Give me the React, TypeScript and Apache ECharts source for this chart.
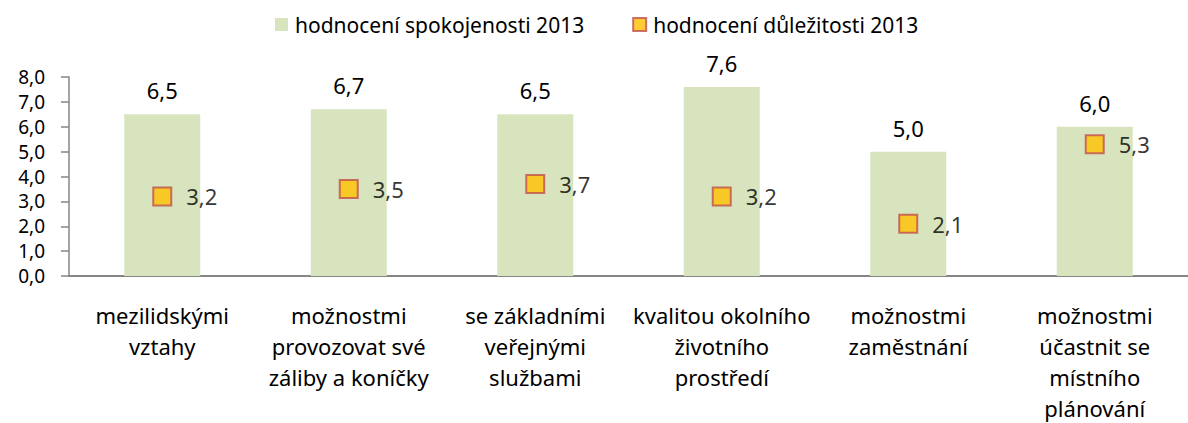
import React, { useEffect, useRef } from "react";
import * as echarts from "echarts";

const categories = [
  "mezilidskými\nvztahy",
  "možnostmi\nprovozovat své\nzáliby a koníčky",
  "se základními\nveřejnými\nslužbami",
  "kvalitou okolního\nživotního\nprostředí",
  "možnostmi\nzaměstnání",
  "možnostmi\núčastnit se\nmístního\nplánování",
];
const satisfaction = [6.5, 6.7, 6.5, 7.6, 5.0, 6.0];
const importance = [3.2, 3.5, 3.7, 3.2, 2.1, 5.3];
const seriesNames = ["hodnocení spokojenosti 2013", "hodnocení důležitosti 2013"];

const FONT = "'Noto Sans', sans-serif";
const FS = 22;
const fmt = (v: number) => v.toFixed(1).replace(".", ",");

export default function App() {
  const ref = useRef<HTMLDivElement>(null);
  useEffect(() => {
    if (!ref.current) return;
    const chart = echarts.init(ref.current, null, { renderer: "svg" });
    chart.setOption({
      animation: false,
      textStyle: { fontFamily: FONT },
      legend: {
        top: 9,
        left: 270,
        itemGap: 48,
        itemWidth: 13,
        itemHeight: 13,
        textStyle: { fontFamily: FONT, fontSize: 21, color: "#000", padding: [0, 0, 0, 2] },
        data: [
          { name: seriesNames[0], icon: "rect" },
          { name: seriesNames[1], icon: "rect" },
        ],
      },
      grid: { left: 69, top: 77, bottom: 143, width: 1130, containLabel: false },
      xAxis: {
        type: "category",
        data: categories,
        axisLine: { lineStyle: { color: "#868686", width: 2 } },
        axisTick: { show: false },
        axisLabel: {
          interval: 0,
          color: "#000",
          fontFamily: FONT,
          fontSize: FS,
          lineHeight: 31,
          margin: 23,
        },
      },
      yAxis: {
        type: "value",
        min: 0,
        max: 8,
        interval: 1,
        splitLine: { show: false },
        axisLine: { show: true, lineStyle: { color: "#868686", width: 1.5 } },
        axisTick: { show: true, length: 8, lineStyle: { color: "#868686", width: 1.5 } },
        axisLabel: {
          formatter: (v: number) => fmt(v),
          color: "#000",
          fontFamily: FONT,
          fontSize: 19,
          lineHeight: 22,
          margin: 24,
        },
      },
      series: [
        {
          name: seriesNames[0],
          type: "bar",
          data: satisfaction,
          barWidth: 76,
          itemStyle: { color: "#d7e4bd" },
          label: {
            show: true,
            position: "top",
            distance: 13,
            formatter: (p: any) => fmt(p.value),
            color: "#000",
            fontFamily: FONT,
            fontSize: FS,
          },
          z: 1,
        },
        {
          name: seriesNames[1],
          type: "scatter",
          data: importance,
          symbol: "rect",
          symbolSize: 18,
          itemStyle: { color: "#ffc000", borderColor: "#c0504d", borderWidth: 2 },
          label: {
            show: true,
            position: "right",
            distance: 14,
            formatter: (p: any) => fmt(p.value),
            color: "#000",
            fontFamily: FONT,
            fontSize: FS,
          },
          z: 3,
        },
      ],
    });
    return () => chart.dispose();
  }, []);
  return <div ref={ref} style={{ width: 1188, height: 423, position: "absolute", left: 0, top: 0 }} />;
}
